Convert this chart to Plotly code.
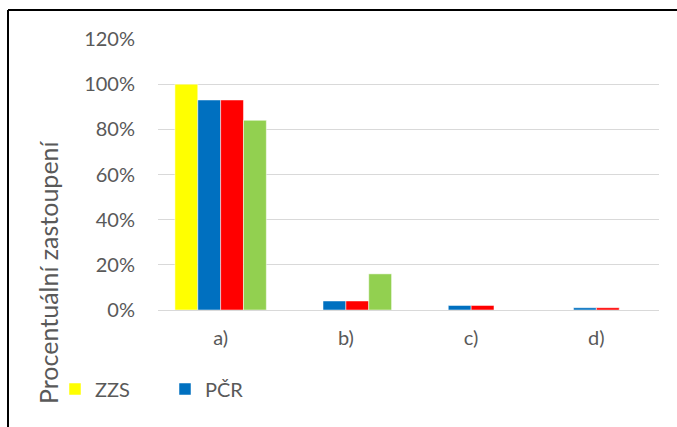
import plotly.graph_objects as go

categories = ["a)", "b)", "c)", "d)"]
zzs = [1.00, 0.0, 0.0, 0.0]
pcr = [0.93, 0.04, 0.02, 0.01]
series3 = [0.93, 0.04, 0.02, 0.01]
series4 = [0.84, 0.16, 0.0, 0.0]
y_ticks = [0, 0.2, 0.4, 0.6, 0.8, 1.0, 1.2]

FONT = "Lato"
GRAY = "#595959"

fig = go.Figure()
fig.add_bar(x=categories, y=zzs, name="ZZS", marker=dict(color="#FFFF00", line=dict(color="#FFFFFF", width=0.5)))
fig.add_bar(x=categories, y=pcr, name="PČR", marker=dict(color="#0070C0", line=dict(color="#FFFFFF", width=0.5)))
fig.add_bar(x=categories, y=series3, name="Série 3", showlegend=False, marker=dict(color="#FF0000", line=dict(color="#FFFFFF", width=0.5)))
fig.add_bar(x=categories, y=series4, name="Série 4", showlegend=False, marker=dict(color="#92D050", line=dict(color="#FFFFFF", width=0.5)))

L, R, T, B = 158, 18, 39, 117
W, H = 677, 427
pw = W - L - R
ph = H - T - B

def px_x(x):
    return (x - L) / pw

def px_y(y):
    return (H - B - y) / ph

fig.update_layout(
    width=W, height=H,
    margin=dict(l=L, r=R, t=T, b=B, pad=0),
    paper_bgcolor="white", plot_bgcolor="white",
    barmode="group", bargap=0.27, bargroupgap=0,
    font=dict(family=FONT, color=GRAY, size=20),
    showlegend=True,
    legend=dict(orientation="h", x=px_x(55), xanchor="left", y=px_y(389), yanchor="middle",
                font=dict(size=20, color=GRAY), entrywidth=65, entrywidthmode="pixels",
                itemwidth=30, bgcolor="rgba(0,0,0,0)"),
    xaxis=dict(showgrid=False, showline=False, ticks="", ticklabelstandoff=14,
               tickfont=dict(size=20, color=GRAY)),
    yaxis=dict(range=[0, 1.2], tickvals=y_ticks, tickformat=".0%", showgrid=True,
               gridcolor="#D9D9D9", gridwidth=1, zeroline=True, zerolinecolor="#D9D9D9",
               zerolinewidth=1, showline=False, ticks="", ticklabelstandoff=22,
               tickfont=dict(size=20, color=GRAY)),
    annotations=[dict(text="Procentuální zastoupení", textangle=-90, xref="paper", yref="paper",
                      x=px_x(48), y=px_y(272), xanchor="center", yanchor="middle",
                      showarrow=False, font=dict(size=25, color=GRAY, family=FONT))],
    shapes=[
        dict(type="line", xref="paper", yref="paper", x0=px_x(8), x1=px_x(677), y0=px_y(10), y1=px_y(10),
             line=dict(color="black", width=2)),
        dict(type="line", xref="paper", yref="paper", x0=px_x(8), x1=px_x(8), y0=px_y(10), y1=px_y(427),
             line=dict(color="black", width=2)),
    ],
)

fig.write_html("out.html", config={"displayModeBar": False},
               post_script="document.body.style.margin='0';document.body.style.padding='0';")
